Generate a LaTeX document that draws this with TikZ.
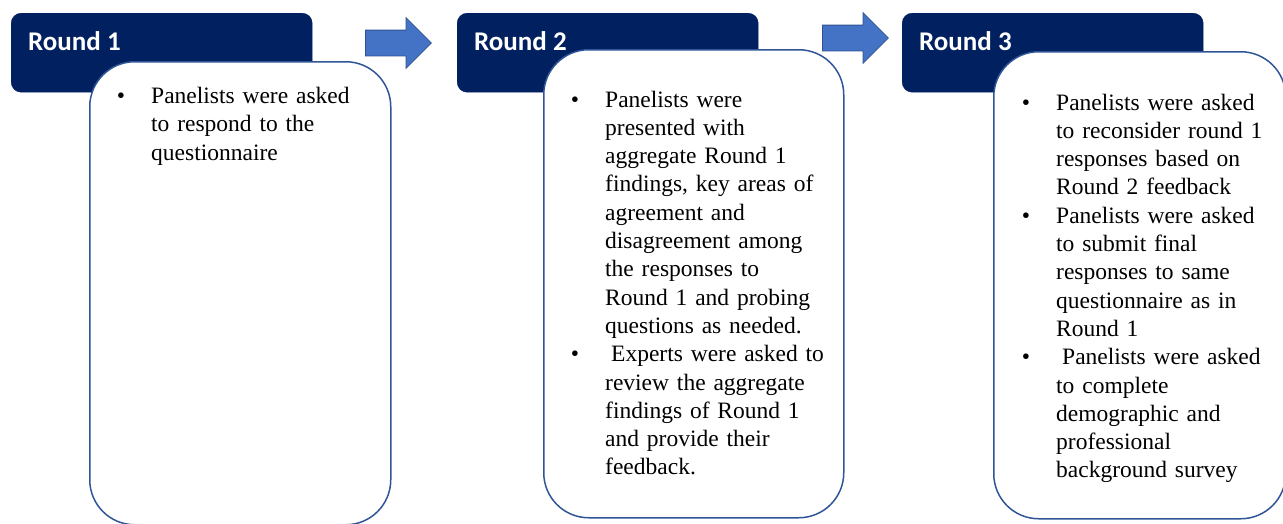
\documentclass[tikz,border=0pt]{standalone}
\usepackage{fontspec}
\setmainfont{Liberation Serif}
\newfontfamily\headfont{Carlito}
\usetikzlibrary{shapes.arrows}
\definecolor{roundnavy}{HTML}{002060}
\definecolor{roundedge}{HTML}{2F5597}
\definecolor{arrowblue}{HTML}{4472C4}
\definecolor{arrowedge}{HTML}{2F528F}
\newcommand{\bul}{\leavevmode\llap{\textbullet\hspace{26pt}}}

\begin{document}
\begin{tikzpicture}[x=1pt, y=-1pt,
    roundhead/.style={fill=roundnavy, draw=roundnavy, rounded corners=10pt, minimum width=301pt, minimum height=79pt, inner sep=0pt, anchor=north west},
    headtxt/.style={text=white, font=\headfont\bfseries\fontsize{27pt}{32pt}\selectfont, inner sep=0pt, anchor=base west},
    card/.style={draw=roundedge, line width=1.5pt, fill=white, rounded corners=45pt, inner sep=0pt, anchor=north west},
    cardtxt/.style={font=\fontsize{23.5pt}{28.3pt}\selectfont, text width=255pt, align=left, inner sep=0pt, anchor=base west},
    flowarrow/.style={single arrow, fill=arrowblue, draw=arrowedge, line width=0.8pt, minimum height=66pt, minimum width=50pt, single arrow head extend=12.5pt, single arrow tip angle=90, inner sep=0pt, inner ysep=12.5pt, anchor=tail}
]
\useasboundingbox (0,0) rectangle (1283,523);

% round 1
\node[roundhead] (h1) at (11,13) {};
\node[headtxt] (t1) at ([xshift=17pt, yshift=-37pt]h1.north west) {Round 1};
\node[card, minimum width=301pt, minimum height=463pt] (c1) at (89,61) {};
\node[cardtxt] (c1txt) at (151,103.5) {\bul Panelists were asked\\to respond to the\\questionnaire};

\node[flowarrow] (a1) at (365,43) {};

% round 2
\node[roundhead] (h2) at (457,13) {};
\node[headtxt] (t2) at ([xshift=17pt, yshift=-37pt]h2.north west) {Round 2};
\node[card, minimum width=300pt, minimum height=468pt] (c2) at (543,49) {};
\node[cardtxt] (c2txt) at (605,107) {\bul Panelists were\\presented with\\aggregate Round 1\\findings, key areas of\\agreement and\\disagreement among\\the responses to\\Round 1 and probing\\questions as needed.\\
  \bul\hspace*{6pt}Experts were asked to\\review the aggregate\\findings of Round 1\\and provide their\\feedback.};

\node[flowarrow] (a2) at (822,38) {};

% round 3
\node[roundhead] (h3) at (902,13) {};
\node[headtxt] (t3) at ([xshift=17pt, yshift=-37pt]h3.north west) {Round 3};
\node[card, minimum width=292pt, minimum height=467pt] (c3) at (993,51) {};
\node[cardtxt] (c3txt) at (1056,110) {\bul Panelists were asked\\to reconsider round 1\\responses based on\\Round 2 feedback\\
  \bul Panelists were asked\\to submit final\\responses to same\\questionnaire as in\\Round 1\\
  \bul\hspace*{6pt}Panelists were asked\\to complete\\demographic and\\professional\\background survey};
\end{tikzpicture}
\end{document}
